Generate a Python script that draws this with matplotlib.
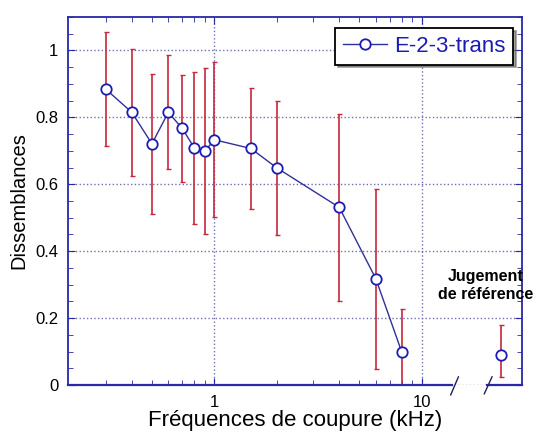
import numpy as np
import matplotlib.pyplot as plt
from matplotlib.ticker import FixedLocator, NullFormatter, MultipleLocator

plt.rcParams['font.family'] = ['Liberation Sans', 'DejaVu Sans']

# data
freq = [0.3, 0.4, 0.5, 0.6, 0.7, 0.8, 0.9, 1.0, 1.5, 2, 4, 6, 8]
diss = [0.884, 0.815, 0.721, 0.815, 0.767, 0.709, 0.699, 0.733, 0.707, 0.649, 0.531, 0.318, 0.099]
err = [0.17, 0.19, 0.209, 0.17, 0.161, 0.228, 0.248, 0.232, 0.181, 0.2, 0.28, 0.269, 0.128]

ref_x = [24]
ref_y = [0.09]
ref_lo = [0.065]
ref_hi = [0.09]

blue = '#1c1cb4'
axcol = '#2828a8'
red = '#c4283c'

fig = plt.figure(figsize=(5.38, 4.33), dpi=100)
ax = fig.add_axes([0.1264, 0.1109, 0.8438, 0.8498])

ax.errorbar(freq, diss, yerr=err, fmt='none', ecolor=red, elinewidth=1.2,
            capsize=1.8, capthick=1, zorder=2)
ax.errorbar(ref_x, ref_y, yerr=[ref_lo, ref_hi], fmt='none', ecolor=red,
            elinewidth=1.2, capsize=1.8, capthick=1, zorder=2)
ax.plot(freq, diss, '-o', color='#30309a', lw=1, mfc='white', mec=blue,
        mew=1.3, ms=7.5, zorder=3, label='E-2-3-trans')
ax.plot(ref_x, ref_y, 'o', mfc='white', mec=blue, mew=1.3, ms=7.5, zorder=3)

ax.set_xscale('log')
ax.set_xlim(0.197, 30.4)
ax.set_ylim(0, 1.1)

ax.xaxis.set_major_locator(FixedLocator([1, 10]))
ax.xaxis.set_minor_locator(FixedLocator([0.3, 0.4, 0.5, 0.6, 0.7, 0.8, 0.9,
                                         2, 3, 4, 5, 6, 7, 8, 9]))
ax.xaxis.set_minor_formatter(NullFormatter())
ax.set_xticklabels(['1', '10'])
ax.yaxis.set_major_locator(MultipleLocator(0.2))
ax.yaxis.set_minor_locator(MultipleLocator(0.05))
ax.set_yticks([0, 0.2, 0.4, 0.6, 0.8, 1.0])
ax.set_yticklabels(['0', '0.2', '0.4', '0.6', '0.8', '1'])

ax.tick_params(which='both', direction='in', top=True, right=True,
               color=axcol, labelsize=12, pad=7)
ax.tick_params(which='major', length=5)
ax.tick_params(which='minor', length=3.5)

ax.grid(True, which='major', ls=':', color='#7070b0', lw=1)

for s in ['top', 'left', 'right']:
    ax.spines[s].set_color(axcol)
    ax.spines[s].set_linewidth(1.3)
ax.spines['bottom'].set_visible(False)

# broken bottom axis
ax.plot([0, 0.845], [0, 0], color=axcol, lw=1.6, transform=ax.transAxes, clip_on=False)
ax.plot([0.923, 1], [0, 0], color=axcol, lw=1.6, transform=ax.transAxes, clip_on=False)
ax.plot([0.843, 0.860], [-0.027, 0.022], color='#202060', lw=1, transform=ax.transAxes, clip_on=False)
ax.plot([0.917, 0.934], [-0.024, 0.022], color='#202060', lw=1, transform=ax.transAxes, clip_on=False)

ax.set_xlabel('Fréquences de coupure (kHz)', fontsize=16, labelpad=0)
ax.set_ylabel('Dissemblances', fontsize=14.5, labelpad=5)

ax.text(0.92, 0.27, 'Jugement\nde référence', transform=ax.transAxes,
        ha='center', va='center', fontsize=11.5, fontweight='bold',
        linespacing=1.3)

leg = ax.legend(loc='upper right', bbox_to_anchor=(0.98, 0.97),
                fontsize=16, frameon=True, fancybox=False, shadow=True,
                handlelength=2.0, handletextpad=0.3, borderpad=0.35,
                borderaxespad=0)
leg.get_frame().set_edgecolor('black')
leg.get_frame().set_linewidth(1.3)
for t in leg.get_texts():
    t.set_color(blue)

fig.savefig('out.png', dpi=100)
